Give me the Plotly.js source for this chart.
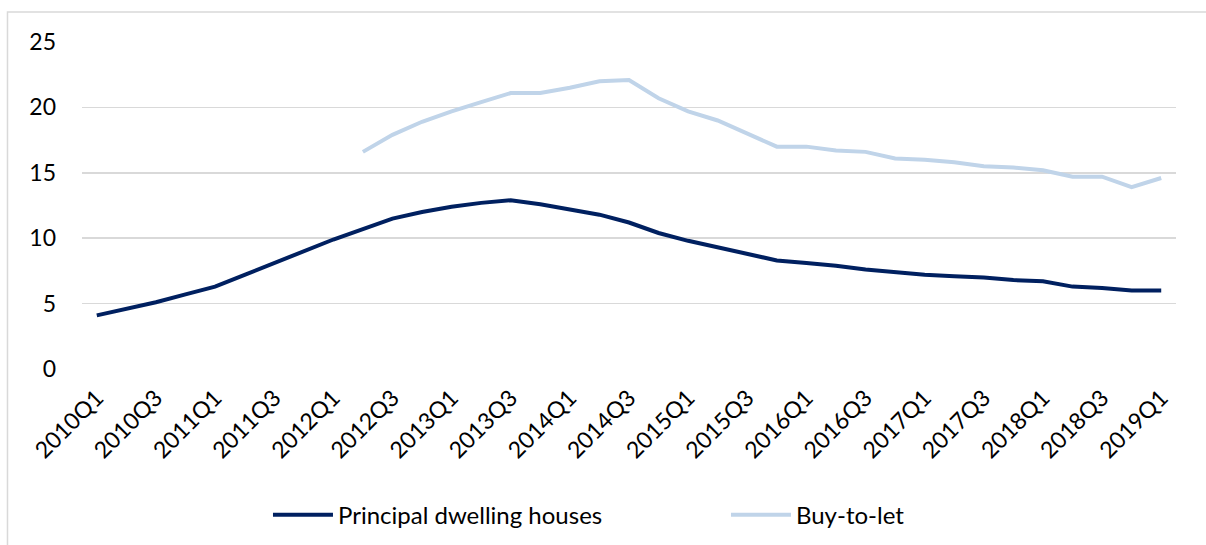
<!DOCTYPE html>
<html>
<head>
<meta charset="utf-8">
<script src="https://cdn.plot.ly/plotly-3.0.1.min.js"></script>
<style>
  html, body { margin: 0; padding: 0; background: #ffffff; }
  #chart { width: 1206px; height: 545px; }
</style>
</head>
<body>
<div id="chart"></div>
<script>
const quarters = [
  "2010Q1","2010Q2","2010Q3","2010Q4",
  "2011Q1","2011Q2","2011Q3","2011Q4",
  "2012Q1","2012Q2","2012Q3","2012Q4",
  "2013Q1","2013Q2","2013Q3","2013Q4",
  "2014Q1","2014Q2","2014Q3","2014Q4",
  "2015Q1","2015Q2","2015Q3","2015Q4",
  "2016Q1","2016Q2","2016Q3","2016Q4",
  "2017Q1","2017Q2","2017Q3","2017Q4",
  "2018Q1","2018Q2","2018Q3","2018Q4",
  "2019Q1"
];

const principalDwelling = [
  4.1, 4.6, 5.1, 5.7,
  6.3, 7.2, 8.1, 9.0,
  9.9, 10.7, 11.5, 12.0,
  12.4, 12.7, 12.9, 12.6,
  12.2, 11.8, 11.2, 10.4,
  9.8, 9.3, 8.8, 8.3,
  8.1, 7.9, 7.6, 7.4,
  7.2, 7.1, 7.0, 6.8,
  6.7, 6.3, 6.2, 6.0,
  6.0
];

const buyToLet = [
  null, null, null, null,
  null, null, null, null,
  null, 16.6, 17.9, 18.9,
  19.7, 20.4, 21.1, 21.1,
  21.5, 22.0, 22.1, 20.7,
  19.7, 19.0, 18.0, 17.0,
  17.0, 16.7, 16.6, 16.1,
  16.0, 15.8, 15.5, 15.4,
  15.2, 14.7, 14.7, 13.9,
  14.6
];

const seriesNames = ["Principal dwelling houses", "Buy-to-let"];
const yTicks = [0, 5, 10, 15, 20, 25];

const FONT = "Lato, Carlito, Calibri, 'Open Sans', sans-serif";

const traces = [
  {
    x: quarters, y: principalDwelling, name: seriesNames[0],
    type: "scatter", mode: "lines",
    line: { color: "#002060", width: 4 },
    hoverinfo: "x+y+name"
  },
  {
    x: quarters, y: buyToLet, name: seriesNames[1],
    type: "scatter", mode: "lines",
    line: { color: "#c0d4e9", width: 4 },
    connectgaps: false,
    hoverinfo: "x+y+name"
  }
];

const layout = {
  width: 1206, height: 545,
  margin: { l: 82, r: 30, t: 42, b: 176, pad: 0, autoexpand: false },
  paper_bgcolor: "#ffffff",
  plot_bgcolor: "#ffffff",
  font: { family: FONT, size: 23, color: "#000000" },
  showlegend: true,
  legend: {
    orientation: "h",
    x: 0.17, xanchor: "left",
    y: -0.447, yanchor: "middle",
    font: { family: FONT, size: 24, color: "#000000" },
    itemwidth: 60,
    entrywidth: 383,
    traceorder: "normal"
  },
  xaxis: {
    type: "category",
    categoryorder: "array",
    categoryarray: quarters,
    range: [-0.5, quarters.length - 0.5],
    tickmode: "array",
    tickvals: quarters.filter((q, i) => i % 2 === 0),
    ticktext: quarters.filter((q, i) => i % 2 === 0),
    tickangle: -45,
    showgrid: false,
    zeroline: false,
    showline: false,
    ticks: "",
    automargin: false,
    ticklabelstandoff: 10,
    tickfont: { family: FONT, size: 23, color: "#000000" }
  },
  yaxis: {
    range: [0, 25],
    tickmode: "array",
    tickvals: yTicks,
    ticktext: yTicks.map(String),
    showgrid: true,
    gridcolor: "#d9d9d9",
    gridwidth: 1.5,
    zeroline: false,
    showline: false,
    ticks: "",
    automargin: false,
    ticklabelstandoff: 25,
    tickfont: { family: FONT, size: 23, color: "#000000" }
  },
  shapes: [
    {
      type: "path", xref: "paper", yref: "paper",
      path: "M -0.0681,-0.7 L -0.0681,1.0917 L 1.2,1.0917",
      line: { color: "#d9d9d9", width: 1.5 },
      layer: "below"
    }
  ]
};

Plotly.newPlot("chart", traces, layout, { displayModeBar: false, staticPlot: true });
</script>
</body>
</html>
